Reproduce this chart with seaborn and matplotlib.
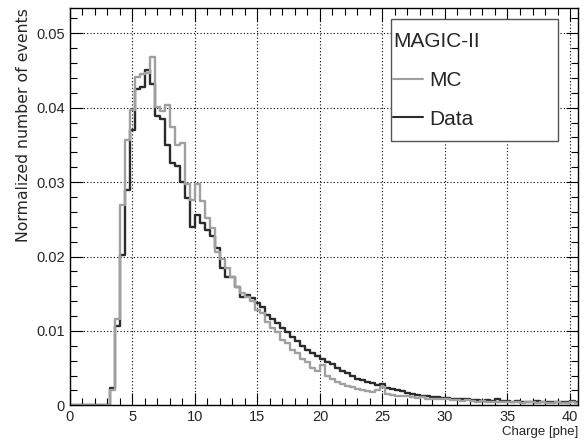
import seaborn as sns
import matplotlib.pyplot as plt
import numpy as np
import pandas as pd
from matplotlib.lines import Line2D
from matplotlib.patches import Rectangle
from matplotlib.ticker import MultipleLocator

# 1. DATA (bins of 0.4 phe starting at 0)
bin_width = 0.4

data_vals = [
    0, 0, 0, 0, 0, 0, 0, 0, 0.0023, 0.0106,
    0.0202, 0.0289, 0.0370, 0.0425, 0.0428, 0.0450, 0.0432, 0.0389, 0.0385, 0.0350,
    0.0326, 0.0322, 0.0300, 0.0278, 0.0240, 0.0256, 0.0245, 0.0236, 0.0227, 0.0211,
    0.0185, 0.0173, 0.0173, 0.0159, 0.0146, 0.0148, 0.0144, 0.0138, 0.0132, 0.0122,
    0.0116, 0.0110, 0.0104, 0.0098, 0.0092, 0.0086, 0.0080, 0.0075, 0.0070, 0.0066,
    0.0062, 0.0058, 0.0055, 0.0050, 0.0046, 0.0043, 0.0040, 0.0036, 0.0034, 0.0031,
    0.0030, 0.0027, 0.0029, 0.0023, 0.0022, 0.0020, 0.0019, 0.0017, 0.0015, 0.0014,
    0.0013, 0.0012, 0.0011, 0.0011, 0.0010, 0.0010, 0.0009, 0.0009, 0.0008, 0.0008,
    0.0007, 0.0007, 0.0006, 0.0007, 0.0006, 0.0008, 0.0006, 0.0006, 0.0005, 0.0006,
    0.0005, 0.0005, 0.0004, 0.0006, 0.0005, 0.0005, 0.0004, 0.0005, 0.0004, 0.0004,
    0.0006, 0.0005,
]

mc_vals = [
    0, 0, 0, 0, 0, 0, 0, 0, 0.0020, 0.0116,
    0.0269, 0.0356, 0.0397, 0.0441, 0.0445, 0.0446, 0.0468, 0.0401, 0.0395, 0.0403,
    0.0374, 0.0350, 0.0353, 0.0298, 0.0276, 0.0298, 0.0274, 0.0252, 0.0238, 0.0206,
    0.0196, 0.0185, 0.0173, 0.0159, 0.0151, 0.0146, 0.0140, 0.0128, 0.0124, 0.0112,
    0.0104, 0.0098, 0.0088, 0.0084, 0.0075, 0.0070, 0.0062, 0.0058, 0.0050, 0.0046,
    0.0054, 0.0040, 0.0036, 0.0032, 0.0029, 0.0026, 0.0024, 0.0022, 0.0021, 0.0019,
    0.0018, 0.0020, 0.0025, 0.0015, 0.0014, 0.0013, 0.0012, 0.0013, 0.0011, 0.0010,
    0.0011, 0.0009, 0.0009, 0.0008, 0.0008, 0.0009, 0.0007, 0.0007, 0.0006, 0.0007,
    0.0006, 0.0005, 0.0006, 0.0005, 0.0005, 0.0004, 0.0005, 0.0004, 0.0004, 0.0005,
    0.0003, 0.0004, 0.0004, 0.0003, 0.0004, 0.0003, 0.0003, 0.0004, 0.0003, 0.0003,
    0.0004, 0.0003,
]

n_bins = len(data_vals)
centers = (np.arange(n_bins) + 0.5) * bin_width
df = pd.DataFrame({"charge": np.concatenate([centers, centers]),
                   "weight": np.concatenate([mc_vals, data_vals]),
                   "sample": ["MC"] * n_bins + ["Data"] * n_bins})

# 2. STYLE
sns.set_theme(style="ticks")
plt.rcParams['font.family'] = ['Liberation Sans', 'DejaVu Sans']
colors = {"MC": "#a0a0a0", "Data": "#2b2b2b"}

W, H = 588, 443
fig = plt.figure(figsize=(W / 100, H / 100), dpi=100)
ax = fig.add_axes([0.119, 0.085, 0.864, 0.897])

sns.histplot(data=df, x="charge", weights="weight", hue="sample",
             binwidth=bin_width, binrange=(0, n_bins * bin_width),
             element="step", fill=False, palette=colors, linewidth=1.7,
             legend=False, ax=ax)

# 3. AXES (ROOT look)
ax.set_xlim(0, 40.64)
ax.set_ylim(0, 0.0534)
ax.xaxis.set_major_locator(MultipleLocator(5))
ax.xaxis.set_minor_locator(MultipleLocator(1))
ax.yaxis.set_minor_locator(MultipleLocator(0.002))
ax.set_yticks([0, 0.01, 0.02, 0.03, 0.04, 0.05])
ax.set_yticklabels(["0", "0.01", "0.02", "0.03", "0.04", "0.05"])
ax.tick_params(which="both", direction="in", top=True, right=True,
               labelsize=10.5, color="black", width=0.8)
ax.tick_params(which="major", length=9)
ax.tick_params(which="minor", length=5)
ax.grid(True, which="major", color="black", linestyle=(0, (1, 2)), linewidth=0.8)
for s in ax.spines.values():
    s.set_color("black")
    s.set_linewidth(1.0)

ax.set_xlabel("Charge [phe]", fontsize=9.5, loc="right", labelpad=1)
ax.set_ylabel("Normalized number of events", fontsize=11.3, loc="top",
              labelpad=4, family="DejaVu Sans")

# 4. LEGEND (ROOT-style box drawn separately, entries placed inside it)
fig.patches.append(Rectangle((391 / W, 1 - 141 / H), 167 / W, 122 / H,
                             transform=fig.transFigure, facecolor="white",
                             edgecolor="#555555", linewidth=1.0, zorder=5))
handles = [Line2D([], [], color=colors["MC"], lw=1.5),
           Line2D([], [], color=colors["Data"], lw=1.5)]
leg = fig.legend(handles, ["MC", "Data"], title="MAGIC-II", loc="upper left",
                 bbox_to_anchor=(393 / W, 1 - 32 / H),
                 bbox_transform=fig.transFigure, frameon=False,
                 fontsize=15, title_fontsize=15, alignment="left",
                 labelspacing=0.95, handlelength=1.45, handletextpad=0.3,
                 borderpad=0, borderaxespad=0)
leg.set_zorder(6)

plt.savefig("out.png", dpi=100)
